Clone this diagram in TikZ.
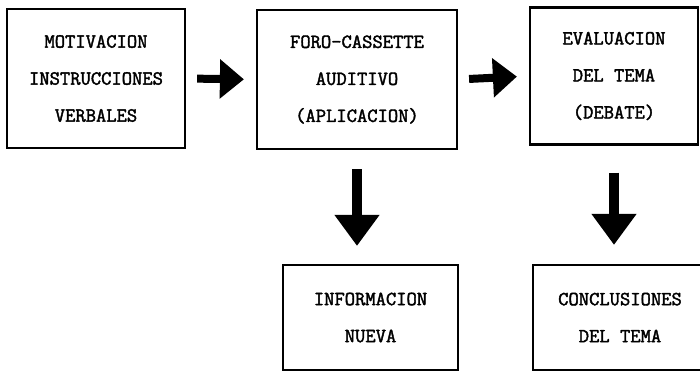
\documentclass[tikz,border=0pt]{standalone}
\usepackage{fontspec}
\newfontfamily\boxfont{Latin Modern Mono}[FakeBold=2]
\usetikzlibrary{arrows.meta}
\tikzset{
  box/.style={draw=black, line width=2.2pt, inner sep=0pt, align=center,
    font=\boxfont\fontsize{20}{37}\selectfont},
  fath/.style={line width=8pt, -{Triangle[width=38pt,length=24pt]}},
  fatv/.style={line width=10.5pt, -{Triangle[width=43pt,length=31pt]}},
}
\begin{document}
\begin{tikzpicture}[x=1pt,y=-1pt]
\useasboundingbox (0,0) rectangle (700,375);
\clip (0,0) rectangle (700,375);
\node[box, minimum width=178pt, minimum height=139pt] (b1) at (96,78.5)
  {MOTIVACION\\INSTRUCCIONES\\VERBALES};
\node[box, minimum width=200pt, minimum height=139pt] (b2) at (357,79.5)
  {FORO-CASSETTE\\AUDITIVO\\(APLICACION)};
\node[box, minimum width=168pt, minimum height=137pt] (b3) at (614,76)
  {EVALUACION\\DEL TEMA\\(DEBATE)};
\node[box, minimum width=175pt, minimum height=105pt] (b4) at (370.5,317.5)
  {INFORMACION\\NUEVA};
\node[box, minimum width=174pt, minimum height=105pt] (b5) at (620,317.5)
  {CONCLUSIONES\\DEL TEMA};
\draw[fath, shorten <=11pt, shorten >=12pt] (b1.east) -- (b2.west);
\draw[fath, shorten <=11pt, shorten >=12pt] (b2.east) -- (b3.west);
\draw[fatv, shorten <=19pt, shorten >=18pt] (b2.south) -- (b2.south |- b4.north);
\draw[fatv, shorten <=27pt, shorten >=19pt] (b3.south) -- (b3.south |- b5.north);
\end{tikzpicture}
\end{document}
